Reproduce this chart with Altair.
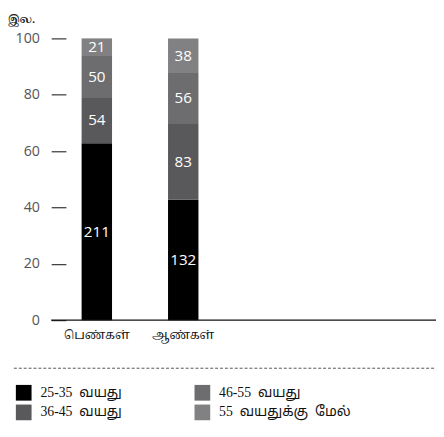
import altair as alt
import pandas as pd

genders = ["பெண்கள்", "ஆண்கள்"]
ages = ["25-35\u00a0\u00a0வயது", "36-45\u00a0\u00a0வயது", "46-55\u00a0\u00a0வயது", "55\u00a0\u00a0வயதுக்கு\u00a0\u00a0மேல்"]
women = [211, 54, 50, 21]
men = [132, 83, 56, 38]
colors = ["#000000", "#59595b", "#6d6d6f", "#818183"]
y_ticks = [0, 20, 40, 60, 80, 100]
unit_label = "இல."

TAMIL_FONT = "Noto Serif Tamil, Noto Sans Tamil, Lohit Tamil, Liberation Serif"
LEGEND_FONT = "Liberation Serif, Noto Sans Tamil, Noto Serif Tamil, Lohit Tamil"

rows = []
for g, vals in zip(genders, [women, men]):
    for i, (a, v) in enumerate(zip(ages, vals)):
        rows.append({"gender": g, "age": a, "order": i, "count": v})
df = pd.DataFrame(rows)

W, H = 392, 287

base = alt.Chart(df).transform_joinaggregate(
    total="sum(count)", groupby=["gender"]
).transform_calculate(
    pct="100 * datum.count / datum.total"
).transform_stack(
    stack="pct", groupby=["gender"], sort=[alt.SortField("order", order="ascending")], as_=["y0", "y1"]
).transform_calculate(
    mid="(datum.y0 + datum.y1) / 2"
)

xenc = alt.X(
    "gender:N", sort=genders,
    scale=alt.Scale(range=[0, 181], paddingInner=0.648, paddingOuter=0.352),
    axis=alt.Axis(title=None, domain=False, ticks=False, labelAngle=0, labelPadding=10,
                  labelFontSize=12, labelColor="#111111", labelFont=TAMIL_FONT),
)

bars = base.mark_bar().encode(
    x=xenc,
    y=alt.Y("y0:Q", scale=alt.Scale(domain=[0, 100], nice=False),
            axis=alt.Axis(title=None, values=y_ticks, domain=False, grid=False, offset=-15,
                          tickSize=15, tickColor="#333333", tickWidth=1.2, labelPadding=12,
                          labelFontSize=14.5, labelColor="#555555", labelFont="Open Sans")),
    y2="y1:Q",
    color=alt.Color("age:N", scale=alt.Scale(domain=ages, range=colors),
                    legend=alt.Legend(title=None, orient="none", legendX=-36, legendY=353,
                                      columns=2, symbolType="square", symbolSize=256,
                                      symbolStrokeWidth=0, symbolOpacity=1,
                                      labelFont=LEGEND_FONT, labelFontSize=14,
                                      labelColor="#111111", labelOffset=9,
                                      columnPadding=73, rowPadding=4, padding=0)),
)

labels = base.mark_text(color="white", font="Open Sans", fontSize=15.5, baseline="middle").encode(
    x=alt.X("gender:N", sort=genders),
    y=alt.Y("mid:Q"),
    text="count:Q",
)

baseline_rule = alt.Chart(pd.DataFrame({"z": [0]})).mark_rule(color="#111111", strokeWidth=1.5).encode(
    x=alt.value(0), x2=alt.value(W), y=alt.datum(0)
)

dash_rule = alt.Chart(pd.DataFrame({"z": [0]})).mark_rule(color="#555555", strokeWidth=1, strokeDash=[3, 2]).encode(
    x=alt.value(-38), x2=alt.value(W), y=alt.value(336)
)

title_text = alt.Chart(pd.DataFrame({"t": [unit_label]})).mark_text(
    align="left", baseline="middle", fontSize=11, font=TAMIL_FONT, fontWeight="bold", color="#222222"
).encode(x=alt.value(-44), y=alt.value(-19), text="t:N")

chart = alt.layer(bars, labels, baseline_rule, dash_rule, title_text).properties(
    width=W, height=H,
    autosize=alt.AutoSizeParams(type="none"),
    padding={"left": 44, "top": 27, "right": 0, "bottom": 110},
).configure_view(stroke=None)

chart.save("out.html", embed_options={"renderer": "svg", "actions": False})
